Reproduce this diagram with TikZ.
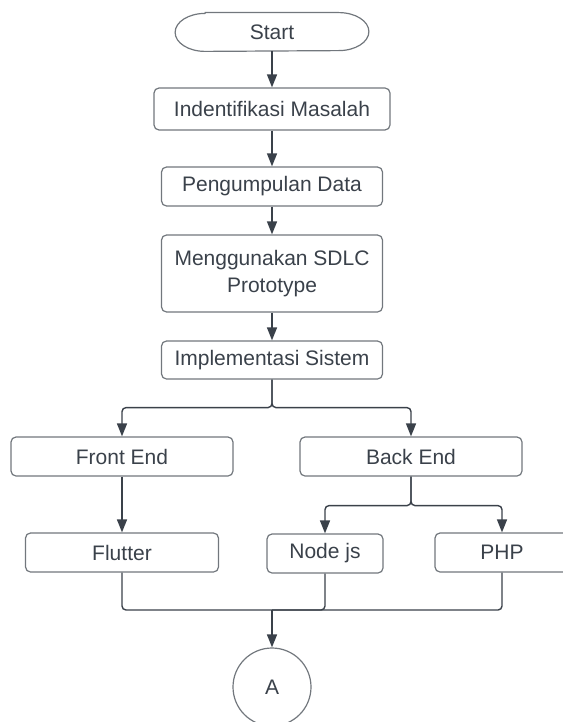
\documentclass[tikz,border=0pt]{standalone}
\usepackage{fontspec}
\setmainfont{Liberation Sans}
\usepackage{tikz}
\usetikzlibrary{shapes.misc,arrows.meta,positioning}
\definecolor{inkgray}{HTML}{3A414A}
\definecolor{edgegray}{HTML}{72777D}
\tikzset{stepbox/.style = {rectangle, rounded corners=2.5pt, draw=edgegray, line width=0.6pt, text=inkgray, inner sep=0pt, align=center, font=\fontsize{10.5}{13.3}\selectfont}}
\tikzset{terminal/.style = {rectangle, text=inkgray, inner sep=0pt, font=\fontsize{10.5}{13.3}\selectfont}}
\tikzset{outline/.style = {draw=edgegray, line width=0.6pt}}
\tikzset{connector/.style = {circle, draw=edgegray, line width=0.6pt, text=inkgray, inner sep=0pt, minimum size=39pt, font=\fontsize{10.5}{13.3}\selectfont}}
\tikzset{arrow/.style={draw=inkgray, line width=0.7pt, rounded corners=2pt, -{Triangle[length=6.5pt,width=5pt]}}}
\tikzset{link/.style={draw=inkgray, line width=0.7pt, rounded corners=2pt}}

\begin{document}
\begin{tikzpicture}[x=0.5pt,y=-0.5pt]
	\useasboundingbox (0,0) rectangle (562,722);
	% main column
	\node[terminal, minimum width=96.5pt, minimum height=19pt] (start) at (272,32) {Start};
	\draw[outline] ([xshift=15pt]start.north west) -- ([xshift=-15pt]start.north east)
		arc[start angle=90, end angle=-90, x radius=15pt, y radius=9.5pt]
		-- ([xshift=15pt]start.south west)
		arc[start angle=270, end angle=90, x radius=15pt, y radius=9.5pt] -- cycle;
	\node[stepbox, minimum width=118pt, minimum height=21pt] (ident) at (272,109) {Indentifikasi Masalah};
	\node[stepbox, minimum width=110.5pt, minimum height=19.5pt] (collect) at (272,186.5) {Pengumpulan Data};
	\node[stepbox, minimum width=110.5pt, minimum height=38.5pt] (sdlc) at (272,273.5) {Menggunakan SDLC\\Prototype};
	\node[stepbox, minimum width=110.5pt, minimum height=19pt] (impl) at (272,360) {Implementasi Sistem};
	% branches
	\node[stepbox, minimum width=111pt, minimum height=19.5pt] (front) at (122,456.5) {Front End};
	\node[stepbox, minimum width=111pt, minimum height=19.5pt] (back) at (411,456.5) {Back End};
	\node[stepbox, minimum width=96.5pt, minimum height=19.5pt] (flutter) at (122,552.5) {Flutter};
	\node[stepbox, minimum width=58pt, minimum height=19.5pt] (nodejs) at (325,553.5) {Node js};
	\node[stepbox, minimum width=67pt, minimum height=19.5pt] (php) at (502,552.5) {PHP};
	\node[connector] (offpage) at (272,687) {A};
	\coordinate (merge) at (272,610);

	\draw[arrow] (start) -- (ident);
	\draw[arrow] (ident) -- (collect);
	\draw[arrow] (collect) -- (sdlc);
	\draw[arrow] (sdlc) -- (impl);
	\draw[arrow] (impl.south) -- ++(0,28) -| (front.north);
	\draw[arrow] (impl.south) -- ++(0,28) -| (back.north);
	\draw[arrow] (front) -- (flutter);
	\draw[arrow] (back.south) -- ++(0,29) -| (nodejs.north);
	\draw[arrow] (back.south) -- ++(0,29) -| (php.north);
	\draw[link] (flutter.south) |- (merge);
	\draw[link] (nodejs.south) |- (merge);
	\draw[link] (php.south) |- (merge);
	\draw[arrow] (merge) -- (offpage);
\end{tikzpicture}
\end{document}
